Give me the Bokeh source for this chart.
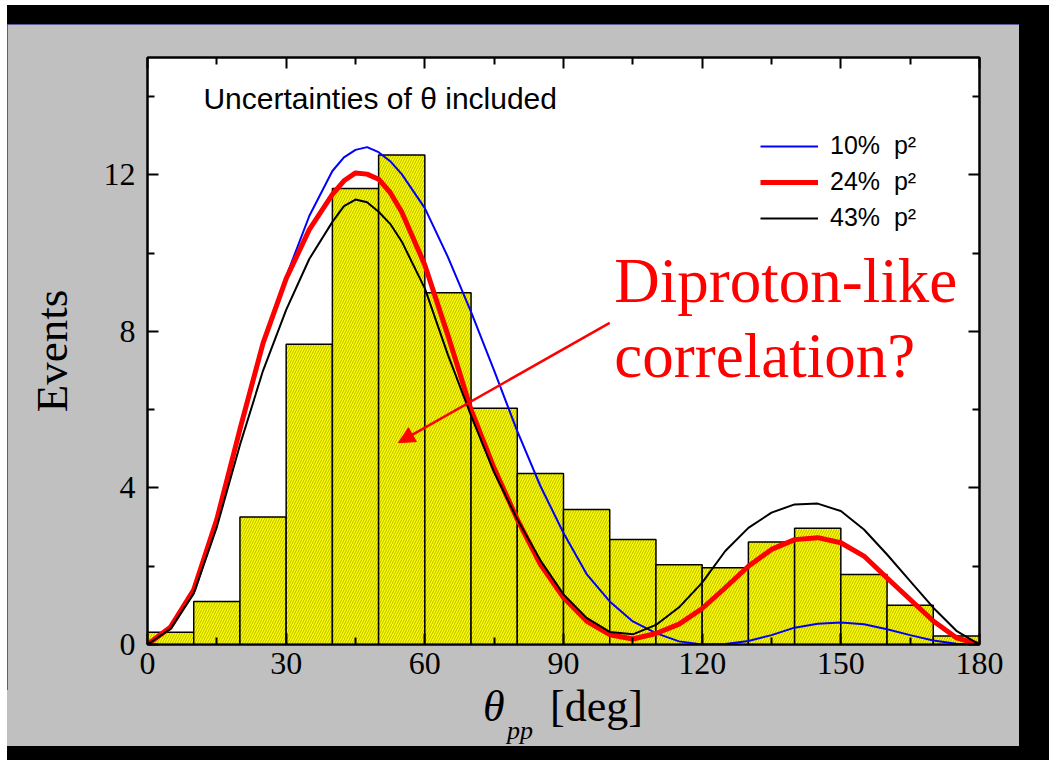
from bokeh.plotting import figure
from bokeh.models import (Range1d, LinearAxis, FixedTicker, Label, Arrow, NormalHead,
                          Legend, LegendItem, Div)
from bokeh.layouts import column, row
from bokeh.embed import file_html
from bokeh.resources import INLINE

# ---------------- data ----------------
bin_left = [0, 10, 20, 30, 40, 50, 60, 70, 80, 90, 100, 110, 120, 130, 140, 150, 160, 170]
bin_width = 10
counts = [0.31, 1.10, 3.26, 7.67, 11.65, 12.51, 8.99, 6.04, 4.37, 3.45, 2.68, 2.04,
          1.96, 2.62, 2.97, 1.79, 1.00, 0.22]

theta = [0, 5, 10, 15, 20, 25, 30, 35, 40, 42.5, 45, 47.5, 50, 52.5, 55, 60, 65, 70, 75, 80,
         85, 90, 95, 100, 105, 110, 115, 120, 125, 130, 135, 140, 145, 150, 155, 160, 165,
         170, 175, 180]
fit_10 = [0, 0.45, 1.4, 3.2, 5.5, 7.7, 9.4, 10.95, 12.1, 12.45, 12.64, 12.71, 12.58, 12.35,
          12.02, 11.15, 9.9, 8.5, 7.0, 5.45, 4.05, 2.85, 1.8, 1.1, 0.59, 0.29, 0.08, 0.0,
          0.01, 0.09, 0.24, 0.43, 0.53, 0.56, 0.52, 0.39, 0.24, 0.1, 0.02, 0.0]
fit_24 = [0, 0.45, 1.4, 3.2, 5.5, 7.7, 9.35, 10.6, 11.5, 11.85, 12.05, 12.02, 11.89, 11.55,
          11.05, 9.7, 7.9, 6.0, 4.5, 3.2, 2.05, 1.2, 0.6, 0.25, 0.14, 0.28, 0.52, 0.92,
          1.45, 2.0, 2.43, 2.68, 2.73, 2.6, 2.26, 1.7, 1.15, 0.6, 0.17, 0.0]
fit_43 = [0, 0.4, 1.3, 3.0, 5.1, 7.0, 8.55, 9.85, 10.8, 11.2, 11.37, 11.3, 11.06, 10.75,
          10.3, 9.1, 7.4, 5.85, 4.4, 3.2, 2.15, 1.28, 0.68, 0.32, 0.26, 0.5, 0.95, 1.58,
          2.39, 2.98, 3.37, 3.58, 3.6, 3.41, 2.94, 2.3, 1.62, 0.94, 0.35, 0.0]

x_ticks = [0, 30, 60, 90, 120, 150, 180]
x_minor = [15, 45, 75, 105, 135, 165]
y_ticks = [0, 4, 8, 12]
y_minor = [2, 6, 10, 14]

legend_labels = ["10%\u00a0\u00a0p\u00b2", "24%\u00a0\u00a0p\u00b2", "43%\u00a0\u00a0p\u00b2"]

SERIF = "Liberation Serif"
SANS = "Liberation Sans"
PANEL = "#c0c0c0"

# ---------------- figure ----------------
p = figure(width=1012, height=666, x_range=Range1d(0, 180), y_range=Range1d(0, 15),
           output_backend="svg", toolbar_location=None,
           min_border_left=140, min_border_right=40, min_border_top=33, min_border_bottom=46,
           background_fill_color="white", border_fill_color=PANEL)
p.grid.visible = False
p.outline_line_color = "black"
p.outline_line_width = 2

x_bottom = p.below[0]
y_left = p.left[0]
x_top = LinearAxis()
y_right = LinearAxis()
p.add_layout(x_top, "above")
p.add_layout(y_right, "right")

for ax in (x_bottom, x_top):
    ax.ticker = FixedTicker(ticks=x_ticks, minor_ticks=x_minor)
for ax in (y_left, y_right):
    ax.ticker = FixedTicker(ticks=y_ticks, minor_ticks=y_minor)

for ax in (x_bottom, x_top, y_left, y_right):
    ax.axis_line_color = "black"
    ax.axis_line_width = 2
    ax.major_tick_in = 11
    ax.major_tick_out = 0
    ax.minor_tick_in = 7
    ax.minor_tick_out = 0
    ax.major_tick_line_width = 2
    ax.minor_tick_line_width = 2
    ax.major_tick_line_color = "black"
    ax.minor_tick_line_color = "black"
    ax.major_label_text_font = SERIF
    ax.major_label_text_font_size = "32px"
    ax.major_label_text_color = "black"

x_bottom.major_label_standoff = 8
y_left.major_label_standoff = 12
y_left.axis_label = "Events"
y_left.axis_label_text_font = SERIF
y_left.axis_label_text_font_size = "45px"
y_left.axis_label_text_font_style = "normal"
y_left.axis_label_text_color = "black"
y_left.axis_label_standoff = 24

for ax in (x_top, y_right):
    ax.major_label_text_color = None
    ax.major_label_text_font_size = "1px"
    ax.major_label_standoff = 0

# ---------------- histogram ----------------
bin_right = [b + bin_width for b in bin_left]
p.quad(left=bin_left, right=bin_right, bottom=0, top=counts,
       fill_color="#ffff00", line_color="black", line_width=1.5,
       hatch_pattern="/", hatch_color="black", hatch_scale=5, hatch_weight=0.5,
       hatch_alpha=0.55)

# ---------------- curves ----------------
r10 = p.line(theta, fit_10, line_color="#0000ff", line_width=2)
r24 = p.line(theta, fit_24, line_color="#ff0000", line_width=5)
r43 = p.line(theta, fit_43, line_color="black", line_width=2)

legend = Legend(items=[LegendItem(label=legend_labels[0], renderers=[r10]),
                       LegendItem(label=legend_labels[1], renderers=[r24]),
                       LegendItem(label=legend_labels[2], renderers=[r43])],
                location=(613, 412), padding=0, margin=0, spacing=7,
                glyph_width=58, glyph_height=24, label_height=24, label_standoff=12,
                label_text_font=SANS, label_text_font_size="25px", label_text_color="black",
                background_fill_alpha=0, border_line_color=None)
p.add_layout(legend)

# ---------------- annotations ----------------
p.add_layout(Label(x=12.1, y=13.94, text="Uncertainties of \u03b8 included",
                   text_font=SANS, text_font_size="30px", text_color="black",
                   text_baseline="alphabetic"))

p.add_layout(Label(x=101.0, y=9.29, text="Diproton-like", text_font=SERIF,
                   text_font_size="63px", text_color="#ff0000", text_baseline="alphabetic"))
p.add_layout(Label(x=101.0, y=7.38, text="correlation?", text_font=SERIF,
                   text_font_size="63px", text_color="#ff0000", text_baseline="alphabetic"))

p.add_layout(Arrow(end=NormalHead(size=16, fill_color="#ff0000", line_color="#ff0000"),
                   x_start=100.0, y_start=8.22, x_end=54.3, y_end=5.16,
                   line_color="#ff0000", line_width=2.5))

# ---------------- x-axis title (below the figure) ----------------
x_title_html = (
    '<div style="position:relative;width:1012px;height:56px;'
    'font-family:\'Liberation Serif\';color:black;">'
    '<span style="position:absolute;left:476px;top:-5px;font-size:44px;line-height:44px;'
    'font-style:italic;">\u03b8</span>'
    '<span style="position:absolute;left:500px;top:28px;font-size:26px;line-height:26px;'
    'font-style:italic;">pp</span>'
    '<span style="position:absolute;left:543px;top:-5px;font-size:44px;line-height:44px;">'
    '[deg]</span></div>'
)
x_title = Div(text=x_title_html, width=1012, height=56, margin=0,
              styles={"background-color": PANEL})

# ---------------- slide frame ----------------
panel = column(p, x_title, spacing=0,
               styles={"outline": "1px solid #3a3a88", "outline-offset": "-1px"})
white_top = Div(width=1049, height=5, margin=0, styles={"background-color": "white"})
white_left = Div(width=7, height=755, margin=0, styles={"background-color": "white"})
top_bar = Div(width=1042, height=19, margin=0, styles={"background-color": "black"})
right_bar = Div(width=30, height=722, margin=0, styles={"background-color": "black"})
bottom_bar = Div(width=1042, height=14, margin=0, styles={"background-color": "black"})

layout = column(white_top,
                row(white_left,
                    column(top_bar, row(panel, right_bar, spacing=0), bottom_bar, spacing=0),
                    spacing=0),
                spacing=0)

open("out.html", "w").write(file_html(layout, INLINE))
